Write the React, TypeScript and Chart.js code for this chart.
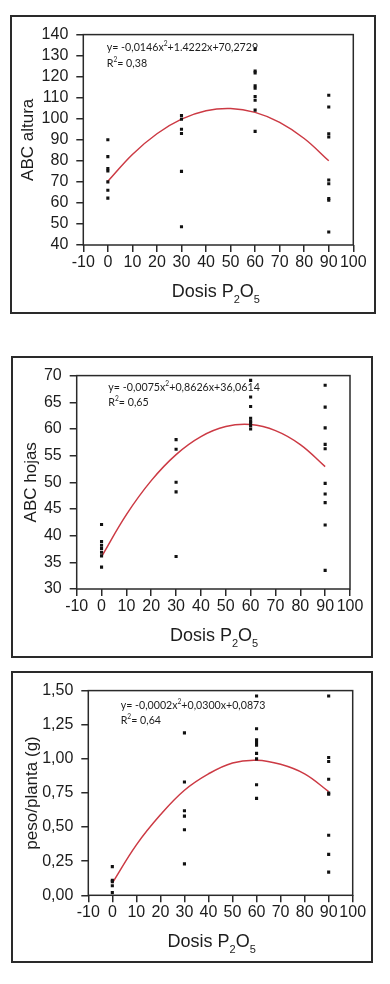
import React, { useEffect, useRef } from "react";
import { Chart, registerables } from "chart.js";

Chart.register(...registerables);

// ---------- data ----------
const doseLevels = [0, 30, 60, 90];
const fitX = [0, 10, 20, 30, 40, 50, 60, 70, 80, 90];

// Panel 1: ABC altura
const alturaD0 = [90, 82, 76.3, 75.2, 70, 66, 62.3];
const alturaD30 = [101.5, 99.8, 95, 93, 75, 48.7];
const alturaD60 = [133, 122.7, 121.8, 115.7, 114.5, 110.6, 108.8, 104.1, 94];
const alturaD90 = [111.2, 105.6, 92.9, 91.3, 70.9, 69.1, 62.1, 61.3, 46.2];
const alturaFit = [70.27, 83.03, 92.88, 99.8, 103.8, 104.88, 103.04, 98.28, 90.61, 80.01];

// Panel 2: ABC hojas
const hojasD0 = [42.1, 38.9, 38.2, 37.6, 36.9, 36.2, 34.1];
const hojasD30 = [58, 56.2, 50, 48.2, 36.1];
const hojasD60 = [69.1, 66, 64.2, 62, 61.5, 61.1, 60.6, 60];
const hojasD90 = [68.2, 64.1, 60.2, 57.1, 56.3, 49.8, 47.8, 46.2, 42, 33.5];
const hojasFit = [36.06, 43.94, 50.31, 55.19, 58.56, 60.44, 60.82, 59.69, 57.07, 52.94];

// Panel 3: peso/planta
const pesoD0 = [0.21, 0.11, 0.1, 0.07, 0.02];
const pesoD30 = [1.19, 0.83, 0.62, 0.58, 0.48, 0.23];
const pesoD60 = [1.46, 1.22, 1.14, 1.12, 1.1, 1.04, 1.0, 0.81, 0.71];
const pesoD90 = [1.46, 1.01, 0.98, 0.85, 0.75, 0.74, 0.44, 0.3, 0.17];
const pesoFit = [0.09, 0.37, 0.59, 0.77, 0.89, 0.97, 0.99, 0.96, 0.89, 0.76];

const xTicksMin = -10;
const xTicksMax = 100;
const xTickStep = 10;

const xTitleMain = "Dosis P";
const xTitleSub1 = "2";
const xTitleMid = "O";
const xTitleSub2 = "5";

// ---------- helpers ----------
function toPoints(groups: number[][]) {
  const pts: { x: number; y: number }[] = [];
  groups.forEach((vals, i) => vals.forEach((v) => pts.push({ x: doseLevels[i], y: v })));
  return pts;
}
function toFit(vals: number[]) {
  return vals.map((v, i) => ({ x: fitX[i], y: v }));
}

const TICK_FONT = '"Liberation Sans", Arial, sans-serif';
const INK = "#1c1c1c";

type Spec = {
  box: { left: number; top: number; width: number; height: number };
  yWidth: number;
  padTop: number;
  padRight: number;
  xHeight: number;
  yMin: number;
  yMax: number;
  yStep: number;
  decimals: number;
  yTitle: string;
  yTitleX: number;
  eq1: [string, string, string];
  eq2: [string, string, string];
  eqDx: number;
  eqDy1: number;
  eqDy2: number;
  eqWidth: number;
  xTitleDx: number;
  scatter: { x: number; y: number }[];
  fit: { x: number; y: number }[];
};

const specs: Spec[] = [
  {
    box: { left: 10, top: 15, width: 366, height: 299 },
    yWidth: 71.3,
    padTop: 12.3,
    padRight: 20.7,
    xHeight: 67,
    yMin: 40,
    yMax: 140,
    yStep: 10,
    decimals: 0,
    yTitle: "ABC altura",
    yTitleX: 16,
    eq1: ["y= -0,0146x", "2", "+1.4222x+70,2729"],
    eq2: ["R", "2", "= 0,38"],
    eqDx: 23.4,
    eqDy1: 13.4,
    eqDy2: 29.2,
    eqWidth: 151.7,
    xTitleDx: -2.5,
    scatter: toPoints([alturaD0, alturaD30, alturaD60, alturaD90]),
    fit: toFit(alturaFit),
  },
  {
    box: { left: 11, top: 356, width: 362, height: 302 },
    yWidth: 63.7,
    padTop: 11.3,
    padRight: 21,
    xHeight: 67,
    yMin: 30,
    yMax: 70,
    yStep: 5,
    decimals: 0,
    yTitle: "ABC hojas",
    yTitleX: 18,
    eq1: ["y= -0,0075x", "2", "+0,8626x+36,0614"],
    eq2: ["R", "2", "= 0,65"],
    eqDx: 31.6,
    eqDy1: 12.4,
    eqDy2: 27.4,
    eqWidth: 151.7,
    xTitleDx: 0.7,
    scatter: toPoints([hojasD0, hojasD30, hojasD60, hojasD90]),
    fit: toFit(hojasFit),
  },
  {
    box: { left: 11, top: 671, width: 362, height: 292 },
    yWidth: 75.3,
    padTop: 11,
    padRight: 18.3,
    xHeight: 65.7,
    yMin: 0,
    yMax: 1.5,
    yStep: 0.25,
    decimals: 2,
    yTitle: "peso/planta (g)",
    yTitleX: 19.3,
    eq1: ["y= -0,0002x", "2", "+0,0300x+0,0873"],
    eq2: ["R", "2", "= 0,64"],
    eqDx: 32.4,
    eqDy1: 15,
    eqDy2: 30,
    eqWidth: 145,
    xTitleDx: -8.8,
    scatter: toPoints([pesoD0, pesoD30, pesoD60, pesoD90]),
    fit: toFit(pesoFit),
  },
];

function drawRuns(
  ctx: CanvasRenderingContext2D,
  runs: { t: string; font: string; dy: number }[],
  x: number,
  y: number
) {
  let cx = x;
  for (const r of runs) {
    ctx.font = r.font;
    ctx.fillText(r.t, cx, y + r.dy);
    cx += ctx.measureText(r.t).width;
  }
  return cx - x;
}
function runsWidth(ctx: CanvasRenderingContext2D, runs: { t: string; font: string; dy: number }[]) {
  let w = 0;
  for (const r of runs) {
    ctx.font = r.font;
    w += ctx.measureText(r.t).width;
  }
  return w;
}

function Panel({ spec }: { spec: Spec }) {
  const ref = useRef<HTMLCanvasElement | null>(null);
  const cw = spec.box.width - 4;
  const ch = spec.box.height - 4;

  useEffect(() => {
    const canvas = ref.current;
    if (!canvas) return;

    const decor = {
      id: "decor",
      afterDraw(chart: any) {
        const { ctx, chartArea: a } = chart;
        ctx.save();
        // frame
        ctx.strokeStyle = "#2a2a2a";
        ctx.lineWidth = 1.5;
        ctx.strokeRect(a.left, a.top, a.right - a.left, a.bottom - a.top);

        ctx.fillStyle = INK;
        // y title
        ctx.save();
        ctx.font = `17px ${TICK_FONT}`;
        ctx.translate(spec.yTitleX, (a.top + a.bottom) / 2);
        ctx.rotate(-Math.PI / 2);
        ctx.textAlign = "center";
        ctx.textBaseline = "middle";
        ctx.fillText(spec.yTitle, 0, 0);
        ctx.restore();

        // x title with subscripts
        ctx.textAlign = "left";
        ctx.textBaseline = "alphabetic";
        const big = `18px ${TICK_FONT}`;
        const small = `11px ${TICK_FONT}`;
        const xr = [
          { t: xTitleMain, font: big, dy: 0 },
          { t: xTitleSub1, font: small, dy: 6 },
          { t: xTitleMid, font: big, dy: 0 },
          { t: xTitleSub2, font: small, dy: 6 },
        ];
        const tw = runsWidth(ctx, xr);
        const cx = (a.left + a.right) / 2 + spec.xTitleDx;
        drawRuns(ctx, xr, cx - tw / 2, a.bottom + 52);

        // equation
        const base = 11;
        const mk = (size: number, parts: [string, string, string]) => [
          { t: parts[0], font: `${size}px Lato, "Open Sans", sans-serif`, dy: 0 },
          { t: parts[1], font: `${size * 0.62}px Lato, "Open Sans", sans-serif`, dy: -size * 0.38 },
          { t: parts[2], font: `${size}px Lato, "Open Sans", sans-serif`, dy: 0 },
        ];
        const w0 = runsWidth(ctx, mk(base, spec.eq1));
        const size = (base * spec.eqWidth) / w0;
        ctx.textBaseline = "middle";
        drawRuns(ctx, mk(size, spec.eq1), a.left + spec.eqDx, a.top + spec.eqDy1);
        drawRuns(ctx, mk(size, spec.eq2), a.left + spec.eqDx, a.top + spec.eqDy2);
        ctx.restore();
      },
    };

    const chart = new Chart(canvas, {
      type: "scatter",
      data: {
        datasets: [
          {
            label: "fit",
            data: spec.fit,
            showLine: true,
            borderColor: "#cc3a44",
            borderWidth: 1.5,
            pointRadius: 0,
            tension: 0.4,
            fill: false,
            order: 2,
          },
          {
            label: "obs",
            data: spec.scatter,
            pointStyle: "rect",
            pointRadius: 2.2,
            pointBorderWidth: 0,
            backgroundColor: "#111",
            borderColor: "#111",
            order: 1,
          },
        ],
      },
      options: {
        responsive: false,
        animation: false,
        devicePixelRatio: 1,
        layout: { padding: { top: spec.padTop, right: spec.padRight, left: 0, bottom: 0 } },
        plugins: { legend: { display: false }, tooltip: { enabled: false } },
        scales: {
          x: {
            type: "linear",
            min: xTicksMin,
            max: xTicksMax,
            afterFit: (s: any) => {
              s.height = spec.xHeight;
            },
            border: { display: false },
            grid: {
              display: true,
              drawOnChartArea: false,
              drawTicks: true,
              tickLength: 7,
              tickColor: "#2a2a2a",
              tickWidth: 1.5,
              color: "#2a2a2a",
              lineWidth: 1.5,
            },
            ticks: {
              stepSize: xTickStep,
              autoSkip: false,
              maxRotation: 0,
              minRotation: 0,
              padding: 1,
              color: INK,
              font: { family: TICK_FONT, size: 16 },
            },
          },
          y: {
            type: "linear",
            min: spec.yMin,
            max: spec.yMax,
            afterFit: (s: any) => {
              s.width = spec.yWidth;
            },
            border: { display: false },
            grid: {
              display: true,
              drawOnChartArea: false,
              drawTicks: true,
              tickLength: 7,
              tickColor: "#2a2a2a",
              tickWidth: 1.5,
              color: "#2a2a2a",
              lineWidth: 1.5,
            },
            ticks: {
              stepSize: spec.yStep,
              autoSkip: false,
              padding: 8,
              color: INK,
              font: { family: TICK_FONT, size: 16 },
              callback: (v: any) => Number(v).toFixed(spec.decimals).replace(".", ","),
            },
          },
        },
      },
      plugins: [decor],
    } as any);

    return () => chart.destroy();
  }, [spec]);

  return (
    <div
      style={{
        position: "absolute",
        left: spec.box.left,
        top: spec.box.top,
        width: spec.box.width,
        height: spec.box.height,
        border: "2px solid #2a2a2a",
        boxSizing: "border-box",
        background: "#fff",
      }}
    >
      <canvas ref={ref} width={cw} height={ch} style={{ display: "block", width: cw, height: ch }} />
    </div>
  );
}

export default function App() {
  return (
    <div style={{ position: "absolute", left: 0, top: 0, width: 390, height: 984, background: "#fff" }}>
      {specs.map((s, i) => (
        <Panel key={i} spec={s} />
      ))}
    </div>
  );
}
